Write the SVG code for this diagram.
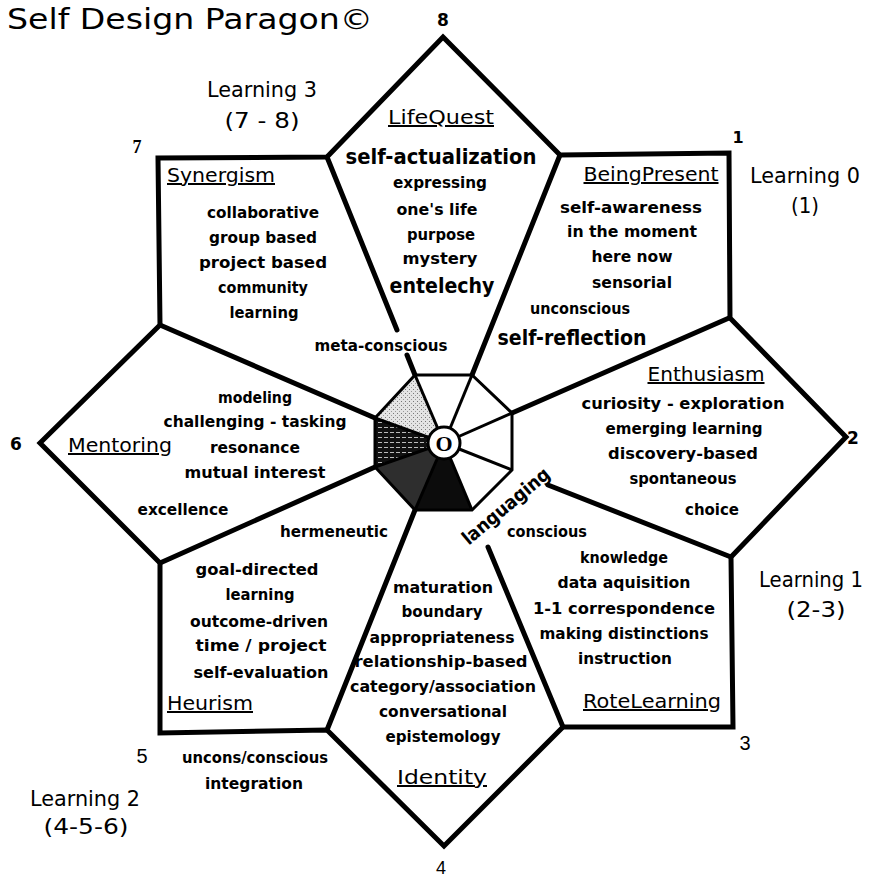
<svg xmlns="http://www.w3.org/2000/svg" width="871" height="879" viewBox="0 0 871 879">
<defs>
<style>
text{font-family:"DejaVu Sans","Liberation Sans",sans-serif;fill:#000;text-anchor:middle}
.b{font-size:16px;font-weight:bold}
.g{font-size:21px;font-weight:bold}
.h{font-size:20px;text-decoration:underline}
.l{font-size:21px}
.n{font-family:"Liberation Sans",sans-serif;font-size:20px}
.nb{font-size:17px;font-weight:bold}
.thick{fill:none;stroke:#000;stroke-width:5;stroke-linejoin:miter;stroke-linecap:round}
.thin{fill:none;stroke:#000;stroke-width:3;stroke-linejoin:miter}
</style>
<pattern id="stripes" width="6" height="5" patternUnits="userSpaceOnUse">
<rect width="6" height="5" fill="#111"/>
<rect y="2" width="4" height="1" fill="#bbb"/>
</pattern>
<pattern id="dots" width="4" height="4" patternUnits="userSpaceOnUse">
<rect width="4" height="4" fill="#e4e4e4"/>
<rect x="1" y="1" width="1" height="1" fill="#777"/>
<rect x="3" y="3" width="1" height="1" fill="#999"/>
</pattern>
</defs>
<rect width="871" height="879" fill="#fff"/>

<text x="190" y="29" style="font-size:28px;text-anchor:middle" textLength="366" lengthAdjust="spacingAndGlyphs">Self Design Paragon©</text>

<g id="hub">
<polygon points="444,443 375,418 415,375" fill="url(#dots)"/>
<polygon points="444,443 375,467 375,418" fill="url(#stripes)"/>
<polygon points="444,443 415,510 375,467" fill="#2e2e2e"/>
<polygon points="444,443 472,510 415,510" fill="#0c0c0c"/>
<polygon class="thin" points="415,375 472,375 512,413 512,470 472,510 415,510 375,467 375,418"/>
</g>

<g id="frame">
<polygon class="thick" points="443,37 560,155 729,153 730,318 846,437 731,557 733,727 563,727 444,846 327,730 160,733 160,563 40,443 160,325 158,158 327,157"/>
</g>

<g id="connectors">
<line class="thick" x1="327" y1="157" x2="397" y2="330"/>
<line class="thick" x1="407" y1="355" x2="415" y2="375"/>
<line class="thick" x1="560" y1="155" x2="472" y2="375"/>
<line class="thick" x1="729" y1="318" x2="512" y2="413"/>
<line class="thick" x1="731" y1="557" x2="548" y2="485"/>
<line class="thick" x1="563" y1="727" x2="488" y2="547"/>
<line class="thick" x1="327" y1="730" x2="415" y2="510"/>
<line class="thick" x1="160" y1="563" x2="375" y2="467"/>
<line class="thick" x1="160" y1="325" x2="375" y2="418"/>
<line class="thin" x1="444" y1="443" x2="415" y2="375"/>
<line class="thin" x1="444" y1="443" x2="472" y2="375"/>
<line class="thin" x1="444" y1="443" x2="512" y2="413"/>
<line class="thin" x1="444" y1="443" x2="512" y2="470"/>
<line class="thin" x1="444" y1="443" x2="472" y2="510"/>
<line class="thin" x1="444" y1="443" x2="415" y2="510"/>
<line class="thin" x1="444" y1="443" x2="375" y2="467"/>
<line class="thin" x1="444" y1="443" x2="375" y2="418"/>
</g>

<g id="center-o">
<circle cx="444" cy="443" r="16" fill="#fff" stroke="#000" stroke-width="3"/>
<text x="444" y="451" style="font-family:'Liberation Serif',serif;font-size:22px;font-weight:bold">O</text>
</g>

<g id="synergism">
<text class="h" x="221" y="182" textLength="108" lengthAdjust="spacingAndGlyphs">Synergism</text>
<text class="b" x="263" y="218" textLength="112" lengthAdjust="spacingAndGlyphs">collaborative</text>
<text class="b" x="263" y="243" textLength="108" lengthAdjust="spacingAndGlyphs">group based</text>
<text class="b" x="263" y="268" textLength="128" lengthAdjust="spacingAndGlyphs">project based</text>
<text class="b" x="263" y="293" textLength="90" lengthAdjust="spacingAndGlyphs">community</text>
<text class="b" x="264" y="318" textLength="69" lengthAdjust="spacingAndGlyphs">learning</text>
</g>

<g id="lifequest">
<text class="h" x="441" y="124" textLength="106" lengthAdjust="spacingAndGlyphs">LifeQuest</text>
<text class="g" x="441" y="164" textLength="191" lengthAdjust="spacingAndGlyphs">self-actualization</text>
<text class="b" x="440" y="188" textLength="94" lengthAdjust="spacingAndGlyphs">expressing</text>
<text class="b" x="437" y="215" textLength="81" lengthAdjust="spacingAndGlyphs">one's life</text>
<text class="b" x="441" y="240" textLength="68" lengthAdjust="spacingAndGlyphs">purpose</text>
<text class="b" x="440" y="264" textLength="75" lengthAdjust="spacingAndGlyphs">mystery</text>
<text class="g" x="442" y="293" textLength="105" lengthAdjust="spacingAndGlyphs">entelechy</text>
<text class="b" x="381" y="351" textLength="133" lengthAdjust="spacingAndGlyphs">meta-conscious</text>
</g>

<g id="beingpresent">
<text class="h" x="651" y="181" textLength="135" lengthAdjust="spacingAndGlyphs">BeingPresent</text>
<text class="b" x="631" y="213" textLength="142" lengthAdjust="spacingAndGlyphs">self-awareness</text>
<text class="b" x="632" y="237" textLength="130" lengthAdjust="spacingAndGlyphs">in the moment</text>
<text class="b" x="632" y="262" textLength="81" lengthAdjust="spacingAndGlyphs">here now</text>
<text class="b" x="632" y="288" textLength="80" lengthAdjust="spacingAndGlyphs">sensorial</text>
<text class="b" x="580" y="314" textLength="100" lengthAdjust="spacingAndGlyphs">unconscious</text>
<text class="g" x="572" y="345" textLength="149" lengthAdjust="spacingAndGlyphs">self-reflection</text>
</g>

<g id="enthusiasm">
<text class="h" x="706" y="381" textLength="117" lengthAdjust="spacingAndGlyphs">Enthusiasm</text>
<text class="b" x="683" y="409" textLength="203" lengthAdjust="spacingAndGlyphs">curiosity - exploration</text>
<text class="b" x="684" y="434" textLength="157" lengthAdjust="spacingAndGlyphs">emerging learning</text>
<text class="b" x="683" y="459" textLength="150" lengthAdjust="spacingAndGlyphs">discovery-based</text>
<text class="b" x="683" y="484" textLength="107" lengthAdjust="spacingAndGlyphs">spontaneous</text>
<text class="b" x="712" y="515" textLength="54" lengthAdjust="spacingAndGlyphs">choice</text>
<text class="b" transform="translate(510,511) rotate(-40)" style="font-size:19px" textLength="108" lengthAdjust="spacingAndGlyphs">languaging</text>
</g>

<g id="rotelearning">
<text class="b" x="547" y="537" textLength="80" lengthAdjust="spacingAndGlyphs">conscious</text>
<text class="b" x="624" y="563" textLength="88" lengthAdjust="spacingAndGlyphs">knowledge</text>
<text class="b" x="624" y="588" textLength="133" lengthAdjust="spacingAndGlyphs">data aquisition</text>
<text class="b" x="624" y="614" textLength="182" lengthAdjust="spacingAndGlyphs">1-1 correspondence</text>
<text class="b" x="624" y="639" textLength="169" lengthAdjust="spacingAndGlyphs">making distinctions</text>
<text class="b" x="625" y="664" textLength="94" lengthAdjust="spacingAndGlyphs">instruction</text>
<text class="h" x="652" y="708" textLength="138" lengthAdjust="spacingAndGlyphs">RoteLearning</text>
</g>

<g id="identity">
<text class="b" x="443" y="593" textLength="100" lengthAdjust="spacingAndGlyphs">maturation</text>
<text class="b" x="442" y="617" textLength="81" lengthAdjust="spacingAndGlyphs">boundary</text>
<text class="b" x="442" y="643" textLength="145" lengthAdjust="spacingAndGlyphs">appropriateness</text>
<text class="b" x="441" y="667" textLength="173" lengthAdjust="spacingAndGlyphs">relationship-based</text>
<text class="b" x="443" y="692" textLength="186" lengthAdjust="spacingAndGlyphs">category/association</text>
<text class="b" x="443" y="717" textLength="128" lengthAdjust="spacingAndGlyphs">conversational</text>
<text class="b" x="443" y="742" textLength="115" lengthAdjust="spacingAndGlyphs">epistemology</text>
<text class="h" x="442" y="784" textLength="90" lengthAdjust="spacingAndGlyphs">Identity</text>
</g>

<g id="heurism">
<text class="b" x="334" y="537" textLength="108" lengthAdjust="spacingAndGlyphs">hermeneutic</text>
<text class="b" x="257" y="575" textLength="123" lengthAdjust="spacingAndGlyphs">goal-directed</text>
<text class="b" x="260" y="600" textLength="69" lengthAdjust="spacingAndGlyphs">learning</text>
<text class="b" x="259" y="627" textLength="138" lengthAdjust="spacingAndGlyphs">outcome-driven</text>
<text class="b" x="261" y="651" textLength="131" lengthAdjust="spacingAndGlyphs">time / project</text>
<text class="b" x="261" y="678" textLength="135" lengthAdjust="spacingAndGlyphs">self-evaluation</text>
<text class="h" x="210" y="710" textLength="86" lengthAdjust="spacingAndGlyphs">Heurism</text>
<text class="b" x="255" y="763" textLength="146" lengthAdjust="spacingAndGlyphs">uncons/conscious</text>
<text class="b" x="254" y="789" textLength="98" lengthAdjust="spacingAndGlyphs">integration</text>
</g>

<g id="mentoring">
<text class="b" x="255" y="403" textLength="74" lengthAdjust="spacingAndGlyphs">modeling</text>
<text class="b" x="255" y="427" textLength="183" lengthAdjust="spacingAndGlyphs">challenging - tasking</text>
<text class="h" x="120" y="452" textLength="104" lengthAdjust="spacingAndGlyphs">Mentoring</text>
<text class="b" x="255" y="453" textLength="90" lengthAdjust="spacingAndGlyphs">resonance</text>
<text class="b" x="255" y="478" textLength="141" lengthAdjust="spacingAndGlyphs">mutual interest</text>
<text class="b" x="183" y="515" textLength="91" lengthAdjust="spacingAndGlyphs">excellence</text>
</g>

<g id="learning-labels">
<text class="l" x="262" y="97" textLength="110" lengthAdjust="spacingAndGlyphs">Learning 3</text>
<text class="l" x="262" y="128" textLength="75" lengthAdjust="spacingAndGlyphs">(7 - 8)</text>
<text class="l" x="805" y="183" textLength="110" lengthAdjust="spacingAndGlyphs">Learning 0</text>
<text class="l" x="805" y="213" textLength="28" lengthAdjust="spacingAndGlyphs">(1)</text>
<text class="l" x="811" y="587" textLength="104" lengthAdjust="spacingAndGlyphs">Learning 1</text>
<text class="l" x="816" y="617" textLength="59" lengthAdjust="spacingAndGlyphs">(2-3)</text>
<text class="l" x="85" y="806" textLength="110" lengthAdjust="spacingAndGlyphs">Learning 2</text>
<text class="l" x="86" y="834" textLength="85" lengthAdjust="spacingAndGlyphs">(4-5-6)</text>
</g>

<g id="numbers">
<text class="nb" x="443" y="26">8</text>
<text class="nb" x="738" y="143" style="font-size:16px">1</text>
<text class="nb" x="853" y="444" style="font-size:17px">2</text>
<text class="n" x="745" y="750">3</text>
<text class="n" x="441" y="874" style="font-size:18px">4</text>
<text class="n" x="142" y="763">5</text>
<text class="nb" x="16" y="450">6</text>
<text x="137" y="153" style="font-family:'Liberation Serif',serif;font-size:18px;font-weight:bold">7</text>
</g>
</svg>
